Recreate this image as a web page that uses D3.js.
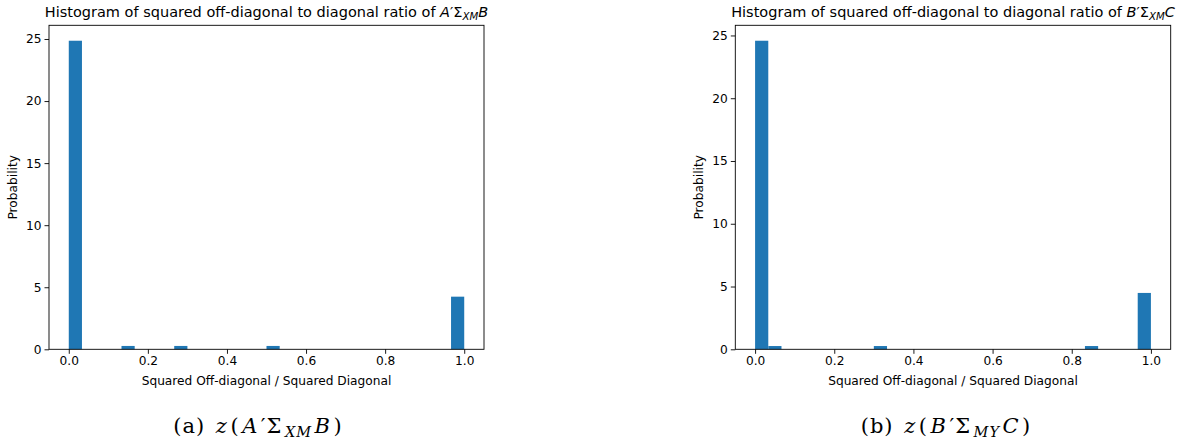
<!DOCTYPE html>
<html>
<head>
<meta charset="utf-8">
<script src="https://cdn.jsdelivr.net/npm/d3@7"></script>
<style>
  body { margin: 0; background: #fff; }
  svg { display: block; }
  text { font-family: "DejaVu Sans", sans-serif; }
</style>
</head>
<body>
<svg id="chart" width="1184" height="442"></svg>
<script>
// ---- data ----
const binCount = 30;              // histogram bins over [0, 1]
const xTicks = [0.0, 0.2, 0.4, 0.6, 0.8, 1.0];
const yTicks = [0, 5, 10, 15, 20, 25];
// densities per bin (probability density), panel (a)
const densityA = [24.86, 0, 0, 0, 0.27, 0, 0, 0, 0.27, 0,
                  0, 0, 0, 0, 0, 0.27, 0, 0, 0, 0,
                  0, 0, 0, 0, 0, 0, 0, 0, 0, 4.24];
// densities per bin, panel (b)
const densityB = [24.58, 0.26, 0, 0, 0, 0, 0, 0, 0, 0.26,
                  0, 0, 0, 0, 0, 0, 0, 0, 0, 0,
                  0, 0, 0, 0, 0, 0.26, 0, 0, 0, 4.49];
const xLabel = "Squared Off-diagonal / Squared Diagonal";
const yLabel = "Probability";

const svg = d3.select("#chart");
const barColor = "#1f77b4";
const FS = 12.2;

function panel(opts) {
  const { left, right, top, bottom, data, titleParts, captionParts, captionX } = opts;
  const g = svg.append("g");
  const x = d3.scaleLinear().domain([-0.05, 1.05]).range([left, right]);
  const ymax = d3.max(data) * 1.05;
  const y = d3.scaleLinear().domain([0, ymax]).range([bottom, top]);
  const bw = 1 / binCount;

  g.selectAll("rect.bar")
    .data(data.map((v, i) => ({ i, v })).filter(d => d.v > 0))
    .enter().append("rect")
    .attr("class", "bar")
    .attr("x", d => x(d.i * bw))
    .attr("width", d => x((d.i + 1) * bw) - x(d.i * bw))
    .attr("y", d => y(d.v))
    .attr("height", d => y(0) - y(d.v))
    .attr("fill", barColor);

  const xAxis = d3.axisBottom(x).tickValues(xTicks).tickFormat(d3.format(".1f"))
    .tickSize(4.5).tickPadding(3);
  const gx = g.append("g").attr("transform", `translate(0,${bottom})`).call(xAxis);
  const yAxis = d3.axisLeft(y).tickValues(yTicks).tickFormat(d3.format("d"))
    .tickSize(4.5).tickPadding(3);
  const gy = g.append("g").attr("transform", `translate(${left},0)`).call(yAxis);
  [gx, gy].forEach(a => {
    a.attr("font-family", null).attr("font-size", null);
    a.select(".domain").remove();
    a.selectAll("text").attr("font-size", FS).attr("fill", "#000");
    a.selectAll("line").attr("stroke", "#000").attr("stroke-width", 0.9);
  });

  // frame
  g.append("rect").attr("x", left).attr("y", top)
    .attr("width", right - left).attr("height", bottom - top)
    .attr("fill", "none").attr("stroke", "#000").attr("stroke-width", 0.9);

  // axis labels
  g.append("text").attr("x", (left + right) / 2).attr("y", bottom + 36)
    .attr("text-anchor", "middle").attr("font-size", FS).text(xLabel);
  g.append("text")
    .attr("transform", `translate(${left - 32},${(top + bottom) / 2}) rotate(-90)`)
    .attr("text-anchor", "middle").attr("font-size", FS).text(yLabel);

  // title
  const t = g.append("text").attr("x", (left + right) / 2).attr("y", top - 8)
    .attr("text-anchor", "middle").attr("font-size", 14.5);
  titleParts.forEach(p => {
    const ts = t.append("tspan").text(p.t);
    if (p.i) ts.attr("font-style", "italic");
    if (p.sub) ts.attr("font-size", 10.2).attr("baseline-shift", "-3");
  });

  // caption
  const c = g.append("text").attr("x", captionX).attr("y", 433)
    .attr("text-anchor", "middle").attr("font-size", 21)
    .attr("letter-spacing", 1.0)
    .style("font-family", "'DejaVu Serif', serif");
  captionParts.forEach((p, k) => {
    const ts = c.append("tspan").text(p.t);
    if (k > 1) ts.attr("dx", 2.5);
    if (k === 1) ts.attr("dx", 3);
    if (p.i) ts.attr("font-style", "italic");
    if (p.sub) ts.attr("font-size", 14.5).attr("baseline-shift", "-4");
  });
}

panel({
  left: 49, right: 484, top: 25.3, bottom: 349.3, data: densityA,
  titleParts: [
    { t: "Histogram of squared off-diagonal to diagonal ratio of " },
    { t: "A", i: true }, { t: "′Σ" }, { t: "XM", i: true, sub: true }, { t: "B", i: true }
  ],
  captionParts: [
    { t: "(a) " }, { t: "z", i: true }, { t: "(" }, { t: "A", i: true }, { t: "′Σ" },
    { t: "XM", i: true, sub: true }, { t: "B", i: true }, { t: ")" }
  ],
  captionX: 258
});

panel({
  left: 735.3, right: 1170.7, top: 25.3, bottom: 349.3, data: densityB,
  titleParts: [
    { t: "Histogram of squared off-diagonal to diagonal ratio of " },
    { t: "B", i: true }, { t: "′Σ" }, { t: "XM", i: true, sub: true }, { t: "C", i: true }
  ],
  captionParts: [
    { t: "(b) " }, { t: "z", i: true }, { t: "(" }, { t: "B", i: true }, { t: "′Σ" },
    { t: "MY", i: true, sub: true }, { t: "C", i: true }, { t: ")" }
  ],
  captionX: 946
});
</script>
</body>
</html>
